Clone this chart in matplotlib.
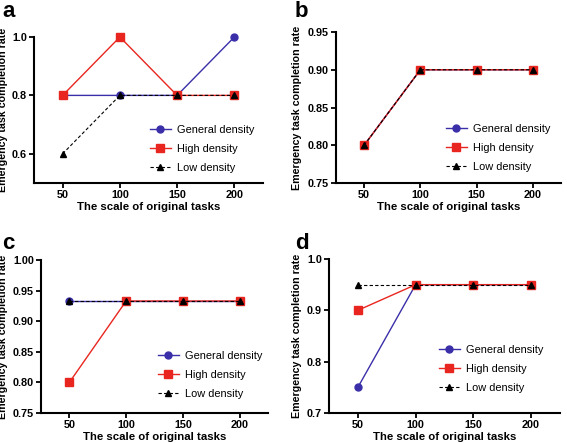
import matplotlib
matplotlib.use("Agg")
import matplotlib.pyplot as plt

plt.rcParams['font.family'] = ['Liberation Sans', 'DejaVu Sans']

x = [50, 100, 150, 200]
series_names = ["General density", "High density", "Low density"]

a_general = [0.8, 0.8, 0.8, 1.0]
a_high = [0.8, 1.0, 0.8, 0.8]
a_low = [0.6, 0.8, 0.8, 0.8]

b_general = [0.8, 0.9, 0.9, 0.9]
b_high = [0.8, 0.9, 0.9, 0.9]
b_low = [0.8, 0.9, 0.9, 0.9]

c_general = [0.933, 0.933, 0.933, 0.933]
c_high = [0.8, 0.933, 0.933, 0.933]
c_low = [0.933, 0.933, 0.933, 0.933]

d_general = [0.75, 0.95, 0.95, 0.95]
d_high = [0.9, 0.95, 0.95, 0.95]
d_low = [0.95, 0.95, 0.95, 0.95]

a_yticks = [0.6, 0.8, 1.0]
b_yticks = [0.75, 0.80, 0.85, 0.90, 0.95]
c_yticks = [0.75, 0.80, 0.85, 0.90, 0.95, 1.00]
d_yticks = [0.7, 0.8, 0.9, 1.0]

W, H = 567, 443
fig = plt.figure(figsize=(W / 100, H / 100), dpi=100)

BLUE = '#3a2fa8'
RED = '#e8261f'
BLACK = '#000000'

def px_axes(l, t, r, b):
    return fig.add_axes([l / W, (H - b) / H, (r - l) / W, (b - t) / H])

panels = [
    ('a', (34, 37, 263, 183), (a_general, a_high, a_low), (0.5, 1.0), a_yticks, '%.1f', (2, 17), (150, 125), 8.5),
    ('b', (336, 32, 561, 183), (b_general, b_high, b_low), (0.75, 0.95), b_yticks, '%.2f', (295, 17), (446, 124), 302.5),
    ('c', (41, 260, 268, 413), (c_general, c_high, c_low), (0.75, 1.00), c_yticks, '%.2f', (2, 249), (158, 351), 8.5),
    ('d', (329, 259, 560, 413), (d_general, d_high, d_low), (0.7, 1.0), d_yticks, '%.1f', (295, 249), (439, 345), 302.5),
]

for label, box, (g, h, lo), ylim, yt, fmt, lab_pos, leg_pos, ylab_x in panels:
    l, t, r, b = box
    ax = px_axes(l, t, r, b)
    ax.plot(x, g, color=BLUE, lw=1.0, marker='o', ms=5, label=series_names[0], clip_on=False, zorder=3)
    ax.plot(x, h, color=RED, lw=1.0, marker='s', ms=5.5, label=series_names[1], clip_on=False, zorder=4)
    ax.plot(x, lo, color=BLACK, lw=0.8, ls=(0, (3, 2)), marker='^', ms=5, label=series_names[2], clip_on=False, zorder=5)
    ax.set_xlim(25, 225)
    ax.set_ylim(*ylim)
    ax.set_xticks(x)
    ax.set_yticks(yt)
    ax.set_yticklabels([fmt % v for v in yt])
    for s in ['top', 'right']:
        ax.spines[s].set_visible(False)
    for s in ['left', 'bottom']:
        ax.spines[s].set_linewidth(1.5)
    ax.tick_params(axis='both', width=1.3, length=3.5, labelsize=7.8, pad=1.5)
    for tl in ax.get_xticklabels() + ax.get_yticklabels():
        tl.set_fontweight('bold')
    ax.set_xlabel("The scale of original tasks", fontsize=8.2, fontweight='bold', labelpad=1.5)
    ax.set_ylabel("Emergency task completion rate", fontsize=7.7, fontweight='bold')
    ax.yaxis.set_label_coords((ylab_x - l) / (r - l), 0.5)
    lx, ly = leg_pos
    ax.legend(loc='upper left', bbox_to_anchor=((lx - l) / (r - l), (b - ly) / (b - t)),
              frameon=False, fontsize=7.9, borderpad=0, borderaxespad=0,
              handlelength=1.9, handletextpad=0.6, labelspacing=0.8)
    fig.text(lab_pos[0] / W, 1 - lab_pos[1] / H, label, fontsize=16, fontweight='bold', va='baseline', ha='left')

fig.savefig('out.png', dpi=100)
